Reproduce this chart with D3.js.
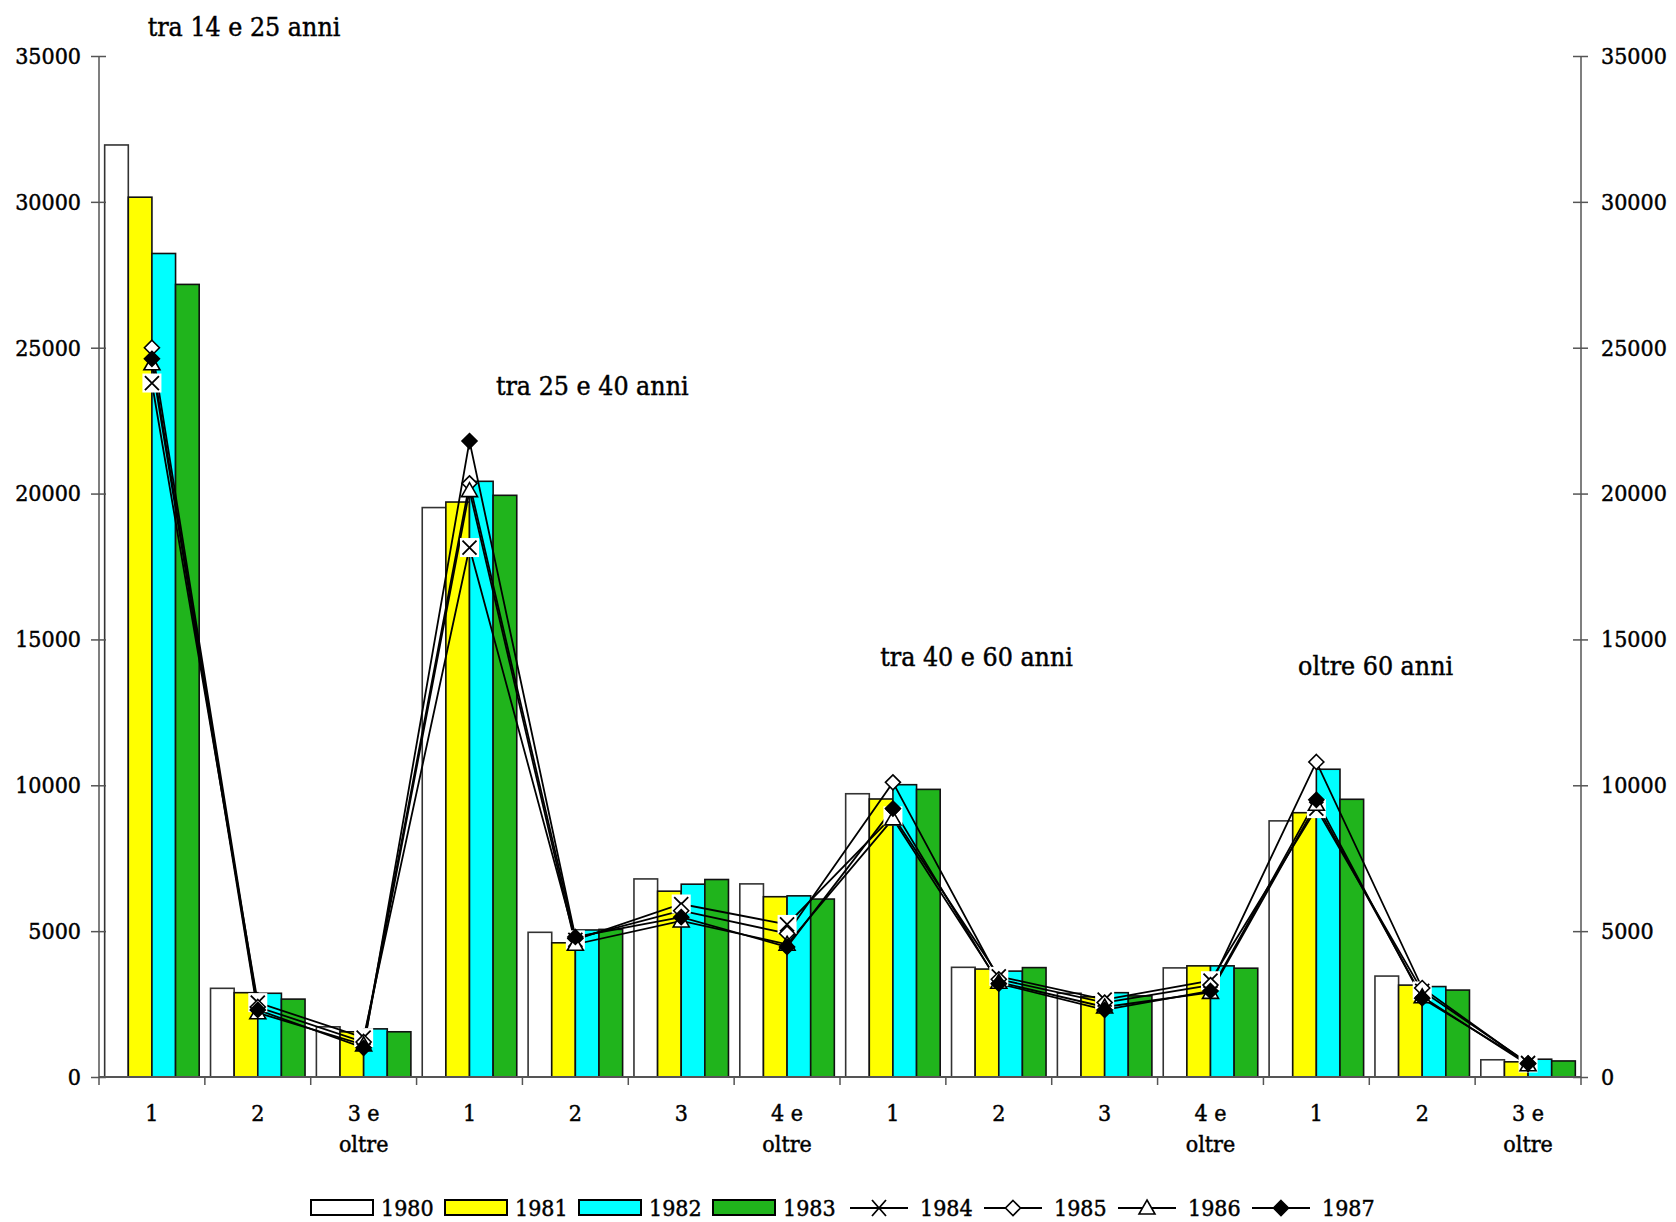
<!DOCTYPE html>
<html>
<head>
<meta charset="utf-8">
<script src="https://cdn.jsdelivr.net/npm/d3@7"></script>
<style>
	body{margin:0;background:#fff;}
	svg text{font-family:"DejaVu Serif Condensed","DejaVu Serif",serif;font-stretch:condensed;fill:#000;stroke:#000;stroke-width:0.45px;}
</style>
</head>
<body>
<svg width="1676" height="1222"></svg>
<script>
// categorie (numero di componenti) per fascia d'età
const categories = ["1","2","3 e\noltre","1","2","3","4 e\noltre","1","2","3","4 e\noltre","1","2","3 e\noltre"];
const barYears = ["1980","1981","1982","1983"];
const lineYears = ["1984","1985","1986","1987"];

const v1980 = [31950, 3040, 1720, 19520, 4960, 6790, 6620, 9710, 3760, 2870, 3740, 8780, 3460, 590];
const v1981 = [30160, 2890, 1550, 19710, 4600, 6370, 6180, 9530, 3700, 2750, 3810, 9060, 3150, 520];
const v1982 = [28230, 2870, 1650, 20420, 5040, 6610, 6210, 10020, 3630, 2890, 3810, 10550, 3100, 610];
const v1983 = [27170, 2670, 1550, 19940, 5060, 6770, 6100, 9860, 3750, 2780, 3730, 9520, 2980, 550];

const v1984 = [23790, 2550, 1350, 18150, 4700, 5930, 5230, 8950, 3450, 2650, 3300, 9200, 2950, 480];
const v1985 = [25000, 2400, 1200, 20350, 4750, 5700, 4920, 10100, 3350, 2550, 3150, 10800, 3050, 450];
const v1986 = [24450, 2200, 1100, 20100, 4550, 5350, 4550, 8850, 3250, 2400, 2900, 9350, 2750, 420];
const v1987 = [24620, 2300, 1000, 21800, 4800, 5480, 4460, 9200, 3200, 2300, 2950, 9500, 2700, 470];

const yTicks = [0, 5000, 10000, 15000, 20000, 25000, 30000, 35000];

const groupLabels = ["tra 14 e 25 anni","tra 25 e 40 anni","tra 40 e 60 anni","oltre 60 anni"];
const groupLabelPos = [1.37, 4.66, 8.29, 12.06];   // in unità di categoria
const groupLabelVal = [35700, 23370, 14080, 13770];

const barValues = [v1980, v1981, v1982, v1983];
const lineValues = [v1984, v1985, v1986, v1987];
const barColors = ["#ffffff","#ffff00","#00ffff","#20b41c"];
const markers = ["x","diamond","triangle","filled"];

const mLeft = 99, mRight = 1581, mTop = 56, mBottom = 1077;
const svg = d3.select("svg");

const idx = d3.range(categories.length);
const x = d3.scaleBand().domain(idx).range([mLeft, mRight]).padding(0);
const xPos = d3.scaleLinear().domain([0, categories.length]).range([mLeft, mRight]);
const xs = d3.scaleBand().domain(barYears).range([0, x.bandwidth()]).paddingInner(0).paddingOuter(0.24);
const y = d3.scaleLinear().domain([0, 35000]).range([mBottom, mTop]);

// barre
barValues.forEach((vals, s) => {
	svg.append("g").selectAll("rect")
		.data(vals)
		.join("rect")
		.attr("x", (d, i) => x(i) + xs(barYears[s]))
		.attr("y", d => y(d))
		.attr("width", xs.bandwidth())
		.attr("height", d => y(0) - y(d))
		.attr("fill", barColors[s])
		.attr("stroke", s == 0 ? "#333" : "#111")
		.attr("stroke-width", 1.6);
});

// assi
const axisCol = "#555";
const yl = d3.axisLeft(y).tickValues(yTicks).tickSize(8).tickPadding(10).tickFormat(d3.format("d"));
const yr = d3.axisRight(y).tickValues(yTicks).tickSize(8).tickPadding(12).tickFormat(d3.format("d"));

function styleAxis(g){
	g.select(".domain").attr("stroke", axisCol).attr("stroke-width", 1.5);
	g.selectAll(".tick line").attr("stroke", axisCol).attr("stroke-width", 1.5);
	g.selectAll(".tick text").attr("font-size", 23).attr("fill", "#000");
}

const gl = svg.append("g").attr("transform", `translate(${mLeft},0)`).call(yl).call(styleAxis);
gl.selectAll(".tick line").attr("x2", 7).attr("x1", -8);
const gr = svg.append("g").attr("transform", `translate(${mRight},0)`).call(yr).call(styleAxis);
gr.selectAll(".tick line").attr("x1", -8).attr("x2", 7);
[gl, gr].forEach(g => g.select(".domain").attr("d", `M0,${mTop}V${mBottom}`));

// asse x
const gx = svg.append("g");
gx.append("line")
	.attr("x1", mLeft).attr("x2", mRight)
	.attr("y1", y(0)).attr("y2", y(0))
	.attr("stroke", axisCol).attr("stroke-width", 1.8);
gx.selectAll("line.t")
	.data(d3.range(categories.length + 1))
	.join("line")
	.attr("class", "t")
	.attr("x1", d => xPos(d)).attr("x2", d => xPos(d))
	.attr("y1", y(0)).attr("y2", y(0) + 8)
	.attr("stroke", axisCol).attr("stroke-width", 1.5);
const tl = gx.selectAll("text")
	.data(categories)
	.join("text")
	.attr("text-anchor", "middle")
	.attr("font-size", 23)
	.attr("x", (d, i) => x(i) + x.bandwidth() / 2)
	.attr("y", y(0) + 44);
tl.each(function(d){
	const parts = d.split("\n");
	const cx = d3.select(this).attr("x");
	d3.select(this).selectAll("tspan")
		.data(parts)
		.join("tspan")
		.attr("x", cx)
		.attr("dy", (p, k) => k == 0 ? 0 : 31)
		.text(p => p);
});

// marcatori
function drawMarker(g, type, cx, cy){
	if(type == "x"){
		g.append("rect").attr("x", cx - 9.5).attr("y", cy - 9.5).attr("width", 19).attr("height", 19).attr("fill", "#fff");
		g.append("path").attr("d", `M${cx-7},${cy-7}L${cx+7},${cy+7}M${cx-7},${cy+7}L${cx+7},${cy-7}`)
			.attr("stroke", "#000").attr("stroke-width", 1.8).attr("fill", "none");
	}else if(type == "diamond" || type == "filled"){
		const r = 7.5;
		g.append("path").attr("d", `M${cx},${cy-r}L${cx+r},${cy}L${cx},${cy+r}L${cx-r},${cy}Z`)
			.attr("fill", type == "filled" ? "#000" : "#fff")
			.attr("stroke", "#000").attr("stroke-width", 1.6);
	}else if(type == "triangle"){
		g.append("path").attr("d", `M${cx},${cy-8}L${cx+8},${cy+6}L${cx-8},${cy+6}Z`)
			.attr("fill", "#fff").attr("stroke", "#000").attr("stroke-width", 1.6);
	}
}

// linee
const line = d3.line()
	.x((d, i) => x(i) + x.bandwidth() / 2)
	.y(d => y(d));
lineValues.forEach(vals => {
	svg.append("path")
		.datum(vals)
		.attr("d", line)
		.attr("fill", "none")
		.attr("stroke", "#000")
		.attr("stroke-width", 1.8);
});
lineValues.forEach((vals, s) => {
	const g = svg.append("g");
	vals.forEach((v, i) => drawMarker(g, markers[s], x(i) + x.bandwidth() / 2, y(v)));
});

// etichette delle fasce
svg.append("g").selectAll("text")
	.data(groupLabels)
	.join("text")
	.attr("text-anchor", "middle")
	.attr("font-size", 26.5)
	.attr("x", (d, i) => xPos(groupLabelPos[i]))
	.attr("y", (d, i) => y(groupLabelVal[i]))
	.text(d => d);

// legenda
const leg = svg.append("g").attr("transform", "translate(311,1208)");
const step = 134;
barYears.forEach((yr, s) => {
	const g = leg.append("g").attr("transform", `translate(${s * step},0)`);
	g.append("rect").attr("x", 0).attr("y", -8).attr("width", 62).attr("height", 15)
		.attr("fill", barColors[s]).attr("stroke", "#000").attr("stroke-width", 2);
	g.append("text").attr("x", 70).attr("y", 8).attr("font-size", 23).text(yr);
});
lineYears.forEach((yr, s) => {
	const g = leg.append("g").attr("transform", `translate(${(s + 4) * step + 3},0)`);
	g.append("line").attr("x1", 0).attr("x2", 58).attr("y1", 0).attr("y2", 0)
		.attr("stroke", "#000").attr("stroke-width", 1.8);
	if(markers[s] == "x"){
		g.append("path").attr("d", "M22,-8L36,8M22,8L36,-8").attr("stroke", "#000").attr("stroke-width", 1.8);
	}else{
		drawMarker(g, markers[s], 29, 0);
	}
	g.append("text").attr("x", 70).attr("y", 8).attr("font-size", 23).text(yr);
});
</script>
</body>
</html>
